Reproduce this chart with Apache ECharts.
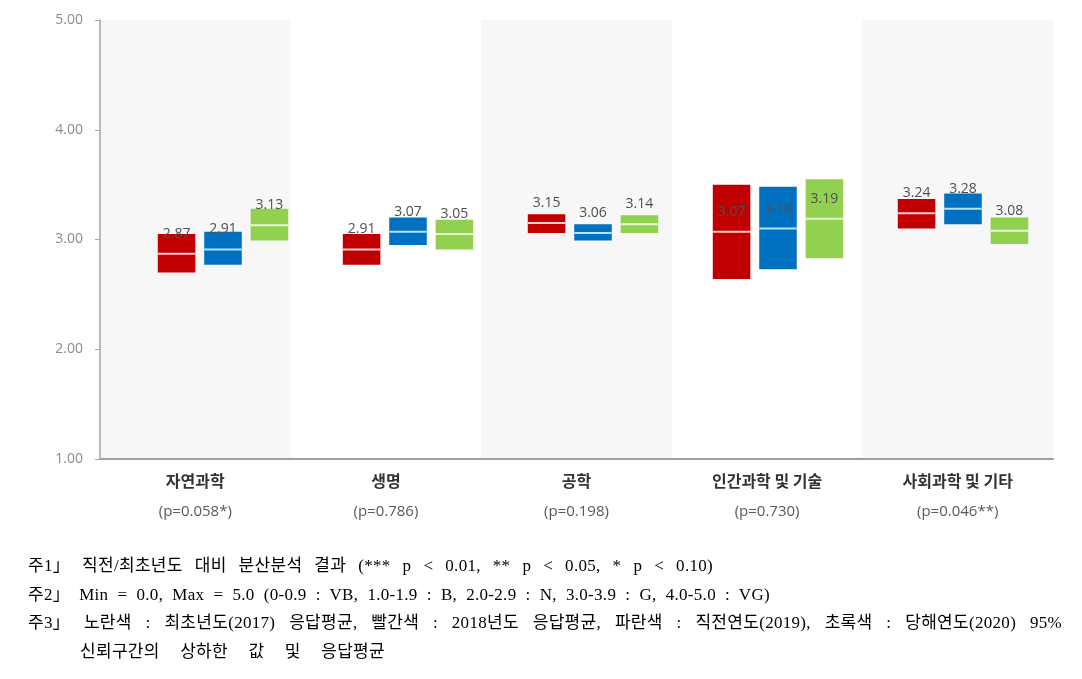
<!DOCTYPE html>
<html><head><meta charset="utf-8">
<script src="https://cdn.jsdelivr.net/npm/echarts@6/dist/echarts.min.js"></script>
<style>
html,body{margin:0;padding:0;background:#fff}
#wrap{position:relative;width:1082px;height:679px}
#c{position:absolute;left:0;top:0;width:1082px;height:679px}
#notes{position:absolute;left:28px;top:552px;width:1040px;font:17px "Liberation Serif","Noto Sans CJK KR",serif;color:#000;line-height:28.5px;letter-spacing:0.3px}
#notes .row{height:28.5px}
#notes span{display:inline-block;white-space:nowrap}
</style>
</head><body><div id="wrap"><div id="c"></div><div id="notes"></div></div>
<script>
const categories = ['자연과학','생명','공학','인간과학 및 기술','사회과학 및 기타'];
const pValues = ['(p=0.058*)','(p=0.786)','(p=0.198)','(p=0.730)','(p=0.046**)'];
const seriesNames = ['2018','2019','2020'];
const mean2018 = [2.87, 2.91, 3.15, 3.07, 3.24];
const low2018  = [2.70, 2.77, 3.06, 2.64, 3.10];
const high2018 = [3.05, 3.05, 3.23, 3.50, 3.37];
const mean2019 = [2.91, 3.07, 3.06, 3.10, 3.28];
const low2019  = [2.77, 2.95, 2.99, 2.73, 3.14];
const high2019 = [3.07, 3.20, 3.14, 3.48, 3.42];
const mean2020 = [3.13, 3.05, 3.14, 3.19, 3.08];
const low2020  = [2.99, 2.91, 3.06, 2.83, 2.96];
const high2020 = [3.28, 3.18, 3.22, 3.55, 3.20];
const yTicks = [1, 2, 3, 4, 5];
const notes = [
  '주1」 직전/최초년도 대비 분산분석 결과 (*** p < 0.01, ** p < 0.05, * p < 0.10)',
  '주2」 Min = 0.0, Max = 5.0 (0-0.9 : VB, 1.0-1.9 : B, 2.0-2.9 : N, 3.0-3.9 : G, 4.0-5.0 : VG)',
  '주3」 노란색 : 최초년도(2017) 응답평균, 빨간색 : 2018년도 응답평균, 파란색 : 직전연도(2019), 초록색 : 당해연도(2020) 95%',
  '신뢰구간의 상하한 값 및 응답평균'
];

// notes as real text, spaced to the widths of the original lines
(function () {
  const box = document.getElementById('notes');
  const targets = [685, 742, 1034, 305];
  const indents = [0, 0, 0, 52];
  notes.forEach((t, i) => {
    const row = document.createElement('div');
    row.className = 'row';
    row.style.paddingLeft = indents[i] + 'px';
    const s = document.createElement('span');
    s.textContent = t;
    row.appendChild(s);
    box.appendChild(row);
    const nat = s.getBoundingClientRect().width;
    const spaces = (t.match(/ /g) || []).length;
    if (spaces) s.style.wordSpacing = Math.max(0, (targets[i] - nat) / spaces) + 'px';
  });
})();

const colors = ['#c00000', '#0070c0', '#92d050'];
const lineColors = ['rgba(255,220,220,0.95)', 'rgba(190,235,255,0.95)', 'rgba(235,255,215,0.95)'];
const groups = [[low2018, high2018, mean2018],[low2019, high2019, mean2019],[low2020, high2020, mean2020]];
const offsets = [-0.251, 0, 0.251];

function makeSeries(k) {
  const [lo, hi, mn] = groups[k];
  return {
    type: 'custom',
    name: seriesNames[k],
    xAxisIndex: 1, yAxisIndex: 1,
    data: categories.map((c, i) => [i, lo[i], hi[i], mn[i]]),
    encode: { x: 0, y: [1, 2, 3] },
    renderItem: function (params, api) {
      const i = api.value(0);
      const band = api.size([1, 0])[0];
      const pLo = api.coord([i, api.value(1)]);
      const pHi = api.coord([i, api.value(2)]);
      const pMn = api.coord([i, api.value(3)]);
      const cx = pLo[0] + band * offsets[k];
      const w = band * 0.203;
      return {
        type: 'group',
        children: [
          { type: 'rect', shape: { x: cx - w / 2, y: pHi[1], width: w, height: pLo[1] - pHi[1] },
            style: { fill: colors[k] } },
          { type: 'line', shape: { x1: cx - w / 2, y1: pMn[1], x2: cx + w / 2, y2: pMn[1] },
            style: { stroke: lineColors[k], lineWidth: 2 } },
          { type: 'text', x: cx, y: pMn[1] - 20,
            style: { text: api.value(3).toFixed(2), fill: '#505050', font: '14px "Open Sans", sans-serif',
                     align: 'center', verticalAlign: 'middle' } }
        ]
      };
    }
  };
}

const chart = echarts.init(document.getElementById('c'));
chart.setOption({
  animation: false,
  backgroundColor: '#fff',
  grid: [
    { left: 100, right: 29, top: 20, bottom: 220 },
    { left: 130.5, right: 26.5, top: 20, bottom: 220 }
  ],
  xAxis: [{
    type: 'category',
    gridIndex: 0,
    data: categories,
    axisLine: { lineStyle: { color: '#a0a0a0', width: 2 } },
    axisTick: { show: false },
    splitArea: { show: true, areaStyle: { color: ['#f7f7f7', '#ffffff'] } },
    axisLabel: {
      margin: 6,
      interval: 0,
      formatter: function (v, i) { return '{a|' + v + '}\n{b|' + pValues[i] + '}'; },
      rich: {
        a: { fontFamily: '"Noto Sans CJK KR", sans-serif', fontWeight: 'bold', fontSize: 16, color: '#333', lineHeight: 31 },
        b: { fontFamily: '"Open Sans", sans-serif', fontSize: 15, color: '#595959', lineHeight: 31 }
      }
    }
  }, {
    type: 'category', gridIndex: 1, data: categories, show: false
  }],
  yAxis: [{
    type: 'value',
    gridIndex: 0,
    min: yTicks[0], max: yTicks[yTicks.length - 1], interval: 1,
    axisLine: { show: true, lineStyle: { color: '#a6a6a6', width: 1.5 } },
    axisTick: { show: true, length: 5, lineStyle: { color: '#a6a6a6' } },
    splitLine: { show: false },
    axisLabel: { formatter: v => v.toFixed(2), color: '#8c8c8c', fontSize: 14, margin: 17, fontFamily: '"Open Sans", sans-serif' }
  }, {
    type: 'value', gridIndex: 1, min: yTicks[0], max: yTicks[yTicks.length - 1], interval: 1, show: false, splitLine: { show: false }
  }],
  series: [makeSeries(0), makeSeries(1), makeSeries(2)]
});
</script></body></html>
